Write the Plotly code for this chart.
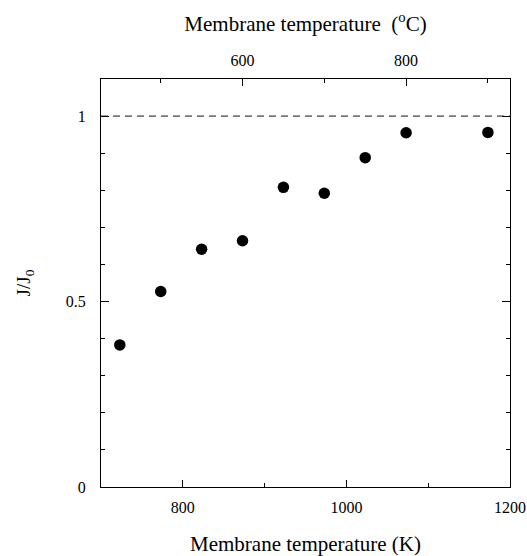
import plotly.graph_objects as go

# Data
temperature_K = [723, 773, 823, 873, 923, 973, 1023, 1073, 1173]
flux_ratio = [0.383, 0.527, 0.641, 0.664, 0.808, 0.792, 0.888, 0.955, 0.956]
reference_level = 1.0
x_range_K = [700, 1200]
y_range = [0, 1.1]
x_major_ticks = [800, 1000, 1200]
x_minor_ticks = [900, 1100]
c_major_ticks = [600, 800]
c_minor_ticks = [500, 700, 900]
y_major_ticks = [0, 0.5, 1]
y_tick_labels = ["0", "0.5", "1"]
K_OFFSET = 273

FONT = "Liberation Serif, Times New Roman, serif"

fig = go.Figure()
fig.add_trace(go.Scatter(
    x=temperature_K, y=flux_ratio, mode="markers",
    marker=dict(color="black", size=11.5, line=dict(width=0)),
    showlegend=False,
))
# invisible trace for the top (Celsius) axis
fig.add_trace(go.Scatter(
    x=[t - K_OFFSET for t in temperature_K], y=flux_ratio, xaxis="x2",
    mode="markers", marker=dict(opacity=0), showlegend=False, hoverinfo="skip",
))

fig.add_shape(type="line", xref="paper", x0=0, x1=1, yref="y",
              y0=reference_level, y1=reference_level,
              line=dict(color="#111111", width=1, dash="7px,5px"))

fig.update_layout(
    width=527, height=556,
    margin=dict(l=101, r=17, t=79, b=69),
    paper_bgcolor="white", plot_bgcolor="white",
    font=dict(family=FONT, color="black", size=16),
    xaxis=dict(
        range=x_range_K, tickmode="array", tickvals=x_major_ticks, automargin=False,
        ticks="inside", ticklen=7, tickwidth=1, tickcolor="black",
        showline=True, linecolor="black", linewidth=1.2, showgrid=False, zeroline=False,
        minor=dict(tickmode="array", tickvals=x_minor_ticks, ticks="inside",
                   ticklen=4, tickcolor="black", showgrid=False),
        tickfont=dict(size=16), ticklabelstandoff=6,
        title=dict(text="Membrane temperature (K)", font=dict(size=21), standoff=31),
    ),
    xaxis2=dict(
        overlaying="x", side="top", anchor="y", automargin=False,
        range=[x_range_K[0] - K_OFFSET, x_range_K[1] - K_OFFSET],
        tickmode="array", tickvals=c_major_ticks,
        ticks="inside", ticklen=7, tickwidth=1, tickcolor="black",
        showline=True, linecolor="black", linewidth=1.2, showgrid=False, zeroline=False,
        minor=dict(tickmode="array", tickvals=c_minor_ticks, ticks="inside",
                   ticklen=4, tickcolor="black", showgrid=False),
        tickfont=dict(size=16), ticklabelstandoff=6,
        title=dict(text="Membrane temperature \u00a0(<sup>o</sup>C)", font=dict(size=21), standoff=14),
    ),
    yaxis=dict(
        range=y_range, tickmode="array", tickvals=y_major_ticks, ticktext=y_tick_labels,
        automargin=False,
        ticks="inside", ticklen=8, tickwidth=1, tickcolor="black",
        showline=True, linecolor="black", linewidth=1.2, mirror="ticks",
        showgrid=False, zeroline=False,
        minor=dict(dtick=0.1, tick0=0, ticks="inside", ticklen=4, tickcolor="black", showgrid=False),
        tickfont=dict(size=16), ticklabelstandoff=11,
        title=dict(text="J/J<sub>0</sub>", font=dict(size=19), standoff=30),
    ),
)

fig.write_html("out.html", config={"displayModeBar": False},
               post_script="document.body.style.margin='0';")
